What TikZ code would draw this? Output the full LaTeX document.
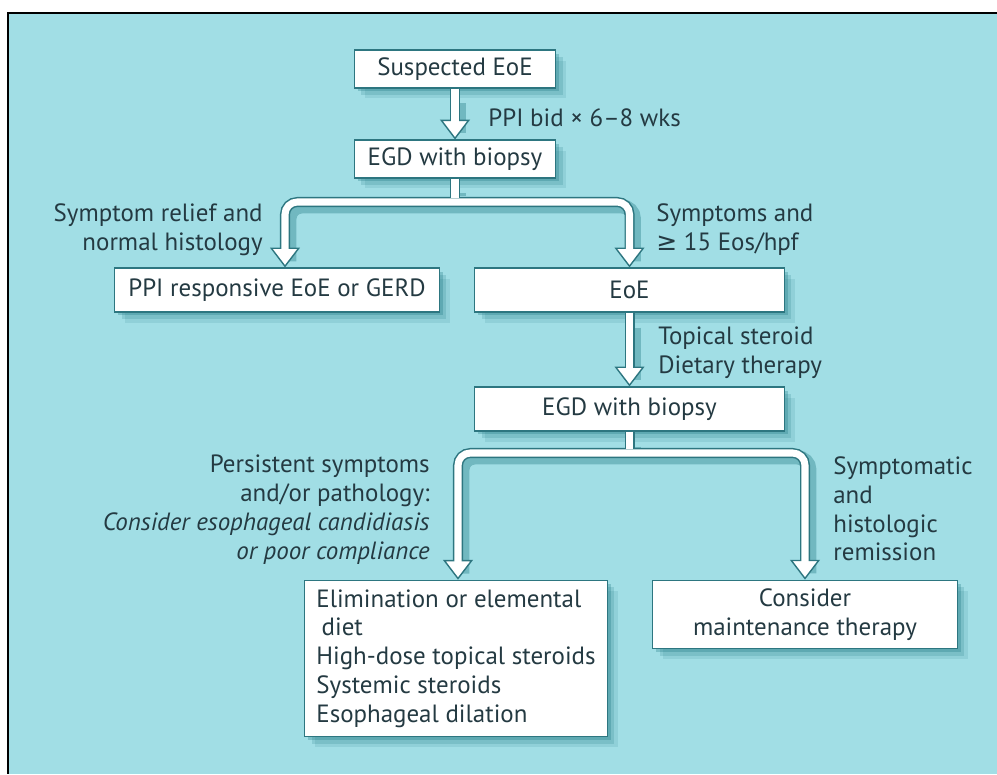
\documentclass[tikz,border=0pt]{standalone}
\usepackage{fontspec}
\setmainfont{PT Sans}
\newfontfamily\symbfont{DejaVu Sans}
\usetikzlibrary{arrows.meta,shadows}
\definecolor{backcol}{RGB}{161,222,229}
\definecolor{inkcol}{RGB}{36,58,66}
\definecolor{edgecol}{RGB}{45,118,128}
\definecolor{shadecol}{RGB}{25,115,125}
\tikzset{
  box/.style = {draw = edgecol, line width = .7pt, fill = white, inner sep = 0pt,
    drop shadow = {shadow xshift = 6pt, shadow yshift = -6pt, fill = shadecol, opacity = .12},
    drop shadow = {shadow xshift = 4pt, shadow yshift = -4pt, fill = shadecol, opacity = .18},
    drop shadow = {shadow xshift = 2pt, shadow yshift = -2pt, fill = shadecol, opacity = .28}},
  lbl/.style = {inner sep = 0pt},
  fathead/.tip = {Triangle[width = 17pt, length = 11.3pt, fill = white, line width = .8pt]},
  fatline/.style = {draw = edgecol, line width = 5.7pt, rounded corners = 7pt,
    preaction = {draw = shadecol, opacity = .35, line width = 8pt, -, shorten > = 6pt, shorten < = 6pt,
      transform canvas = {shift = {(2.5pt,-2.5pt)}}}},
  fatarrow/.style = {fatline, -{fathead},
    postaction = {draw = white, line width = 4pt, -, shorten > = 9.8pt}},
  fatfork/.style = {fatline, {fathead}-{fathead},
    postaction = {draw = white, line width = 4pt, -, shorten > = 9.8pt, shorten < = 9.8pt}},
  fatstem/.style = {fatline, shorten > = 2pt,
    postaction = {draw = white, line width = 4pt}}
}
\begin{document}
\begin{tikzpicture}[x = 0.02cm, y = -0.02cm, text = inkcol,
    font = \fontsize{14.2}{16.4}\selectfont]
  \useasboundingbox (0,0) rectangle (997,774);
  \fill [white] (0,0) rectangle (997,774);
  \fill [backcol] (8,13) rectangle (997,774);
  \draw [line width = 1.2pt] (997,13) -- (8,13) -- (8,774);

  \node [box, minimum width = 114.5pt, minimum height = 21.5pt] (suspect) at (455,69) {Suspected EoE};
  \node [box, minimum width = 114.5pt, minimum height = 21.5pt] (egdA) at (455,159) {EGD with biopsy};
  \node [box, minimum width = 184.8pt, minimum height = 25pt] (ppi) at (277,290) {PPI responsive EoE or GERD};
  \node [box, minimum width = 176.3pt, minimum height = 25pt] (eoe) at (629.5,290) {EoE};
  \node [box, minimum width = 176.3pt, minimum height = 25pt] (egdB) at (629.5,409) {EGD with biopsy};
  \node [box, minimum width = 172.3pt, minimum height = 89pt, align = left] (diet) at (456,658.5)
    {Elimination or elemental\\\hspace*{3pt}diet\\High-dose topical steroids\\Systemic steroids\\Esophageal dilation};
  \node [box, minimum width = 173.5pt, minimum height = 39pt, align = center] (maint) at (805,614.5)
    {Consider\\maintenance therapy};

  \node [lbl, anchor = west] (ppilbl) at (488,118) {PPI bid × 6–8 wks};
  \node [lbl, anchor = east, align = right] (reliefl) at (263,230) {Symptom relief and\\normal histology};
  \node [lbl, anchor = west, align = left] (eosl) at (656,230) {Symptoms and\\{\symbfont ≥} 15 Eos/hpf};
  \node [lbl, anchor = west, align = left] (steroidl) at (658,353) {Topical steroid\\Dietary therapy};
  \node [lbl, anchor = east, align = right] (persistl) at (430,509.5)
    {Persistent symptoms\\and/or pathology:\\\textit{Consider esophageal candidiasis}\\\textit{or poor compliance}};
  \node [lbl, anchor = west, align = left] (remitl) at (833,509) {Symptomatic\\and\\histologic\\remission};

  \coordinate (forkA) at (455,202);
  \coordinate (forkB) at (629.5,453);
  \draw [fatarrow] (suspect) -- (egdA);
  \draw [fatfork] (285,0 |- ppi.north) |- (forkA) -| (eoe.north);
  \draw [fatstem] (egdA) -- (forkA);
  \draw [fatarrow] (eoe) -- (egdB);
  \draw [fatfork] (458,0 |- diet.north) |- (forkB) -| (maint.north);
  \draw [fatstem] (egdB) -- (forkB);
\end{tikzpicture}
\end{document}
